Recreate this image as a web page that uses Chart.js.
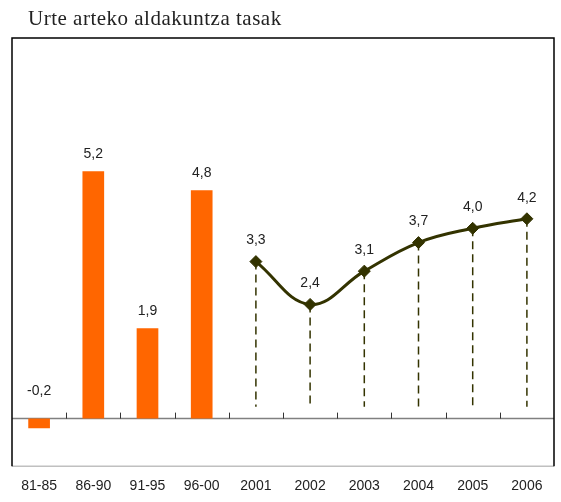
<!DOCTYPE html>
<html>
<head>
<meta charset="utf-8">
<script src="https://cdn.jsdelivr.net/npm/chart.js@4"></script>
<style>
  body { margin: 0; background: #fff; }
  #wrap { width: 561px; height: 502px; position: relative; }
</style>
</head>
<body>
<div id="wrap"><canvas id="rates-chart"></canvas></div>
<script>
let titleText = "Urte arteko aldakuntza tasak";
let periods = ["81-85", "86-90", "91-95", "96-00", "2001", "2002", "2003", "2004", "2005", "2006"];
let barValues = [-0.2, 5.2, 1.9, 4.8, null, null, null, null, null, null];
let lineValues = [null, null, null, null, 3.3, 2.4, 3.1, 3.7, 4.0, 4.2];
let yMin = -1;
let yMax = 8;

let orange = "#FF6600";
let olive = "#333300";

function fmt(v) {
  return v.toFixed(1).replace(".", ",");
}

// frame, zero line, small ticks, drop lines, value labels and title
let decorations = {
  id: "decorations",
  beforeDatasetsDraw(chart) {
    let ctx = chart.ctx;
    let area = chart.chartArea;
    let x = chart.scales.x;
    let y = chart.scales.y;
    let zero = y.getPixelForValue(0);
    ctx.save();
    // zero line
    ctx.strokeStyle = "#808080";
    ctx.lineWidth = 1.5;
    ctx.beginPath();
    ctx.moveTo(area.left, zero);
    ctx.lineTo(area.right, zero);
    ctx.stroke();
    // ticks between categories
    ctx.strokeStyle = "#333";
    ctx.lineWidth = 1;
    for (let i = 1; i < periods.length; i++) {
      let px = Math.round((x.getPixelForValue(i - 1) + x.getPixelForValue(i)) / 2) + 0.5;
      ctx.beginPath();
      ctx.moveTo(px, zero);
      ctx.lineTo(px, zero - 6);
      ctx.stroke();
    }
    // drop lines
    ctx.strokeStyle = olive;
    ctx.lineWidth = 1.5;
    ctx.setLineDash([8, 5]);
    lineValues.forEach((v, i) => {
      if (v === null) return;
      let px = x.getPixelForValue(i);
      ctx.beginPath();
      ctx.moveTo(px, y.getPixelForValue(v));
      ctx.lineTo(px, y.getPixelForValue(0.25));
      ctx.stroke();
    });
    ctx.setLineDash([]);
    // frame
    ctx.strokeStyle = "#c0c0c0";
    ctx.lineWidth = 1.5;
    ctx.beginPath();
    ctx.moveTo(area.left, area.bottom);
    ctx.lineTo(area.right, area.bottom);
    ctx.stroke();
    ctx.strokeStyle = "#000";
    ctx.beginPath();
    ctx.moveTo(area.left, area.bottom);
    ctx.lineTo(area.left, area.top);
    ctx.lineTo(area.right, area.top);
    ctx.lineTo(area.right, area.bottom);
    ctx.stroke();
    ctx.restore();
  },
  afterDatasetsDraw(chart) {
    let ctx = chart.ctx;
    let x = chart.scales.x;
    let y = chart.scales.y;
    ctx.save();
    ctx.fillStyle = "#222";
    ctx.font = "14px 'Liberation Sans', Arial, sans-serif";
    ctx.textAlign = "center";
    ctx.textBaseline = "middle";
    barValues.forEach((v, i) => {
      if (v === null) return;
      let top = y.getPixelForValue(Math.max(v, 0));
      ctx.fillText(fmt(v), x.getPixelForValue(i), top - (v < 0 ? 27 : 17));
    });
    lineValues.forEach((v, i) => {
      if (v === null) return;
      ctx.fillText(fmt(v), x.getPixelForValue(i), y.getPixelForValue(v) - 21);
    });
    ctx.fillStyle = "#222";
    ctx.font = "21px 'Liberation Serif', 'Times New Roman', serif";
    ctx.letterSpacing = "0.5px";
    ctx.textAlign = "left";
    ctx.textBaseline = "alphabetic";
    ctx.fillText(titleText, 28, 25);
    ctx.restore();
  },
};

let ratesChart = new Chart("rates-chart", {
  type: "bar",
  data: {
    labels: periods,
    datasets: [
      {
        type: "bar",
        data: barValues,
        backgroundColor: orange,
        borderWidth: 0,
        barPercentage: 0.4,
        categoryPercentage: 1,
        grouped: false,
        order: 2,
      },
      {
        type: "line",
        data: lineValues,
        borderColor: olive,
        borderWidth: 3,
        tension: 0.4,
        pointStyle: "rectRot",
        pointRadius: 6,
        pointBackgroundColor: olive,
        pointBorderColor: olive,
        pointBorderWidth: 1,
        spanGaps: false,
        order: 1,
      },
    ],
  },
  options: {
    responsive: true,
    maintainAspectRatio: false,
    animation: false,
    layout: {
      padding: { left: 12, right: 4, top: 38, bottom: -5 },
    },
    plugins: {
      legend: { display: false },
      tooltip: { enabled: false },
    },
    scales: {
      x: {
        grid: { display: false, drawTicks: false },
        border: { display: false },
        ticks: {
          color: "#222",
          padding: 12,
          maxRotation: 0,
          font: { family: "'Liberation Sans', Arial, sans-serif", size: 14 },
        },
      },
      y: {
        display: false,
        min: yMin,
        max: yMax,
      },
    },
  },
  plugins: [decorations],
});
</script>
</body>
</html>
